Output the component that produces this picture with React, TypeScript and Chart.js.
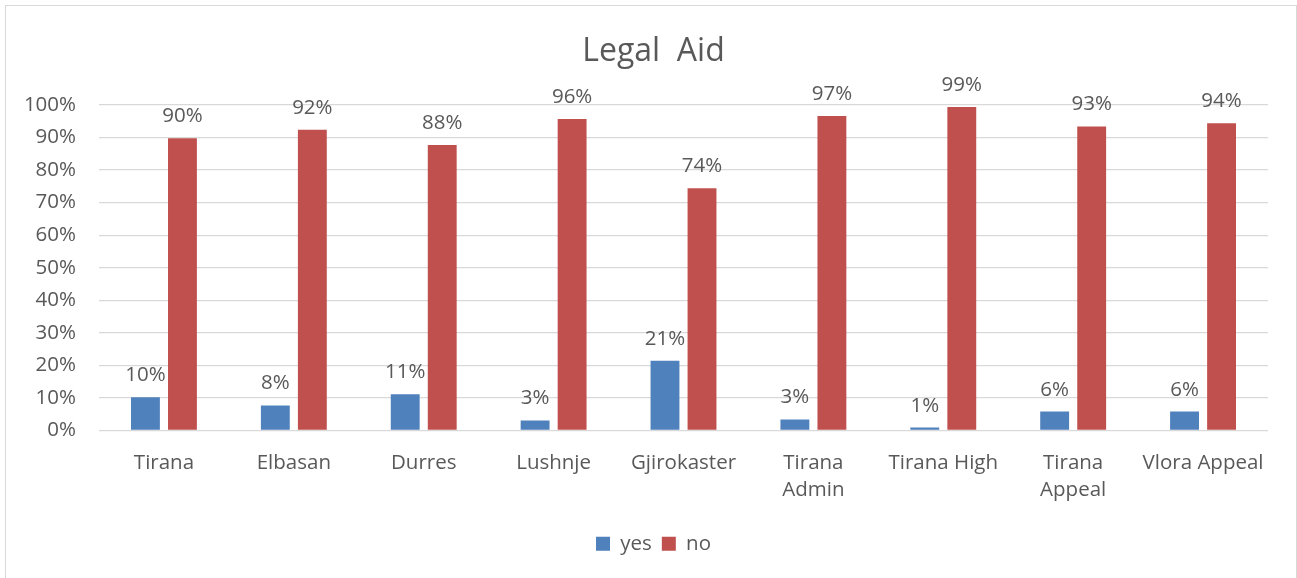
import React, { useEffect, useRef } from "react";
import { Chart, registerables } from "chart.js";

Chart.register(...registerables);

const categories: (string | string[])[] = [
  "Tirana",
  "Elbasan",
  "Durres",
  "Lushnje",
  "Gjirokaster",
  ["Tirana", "Admin"],
  "Tirana High",
  ["Tirana", "Appeal"],
  "Vlora Appeal",
];
const yesValues = [0.102, 0.077, 0.111, 0.031, 0.214, 0.034, 0.009, 0.058, 0.058];
const noValues = [0.898, 0.924, 0.877, 0.957, 0.744, 0.966, 0.994, 0.934, 0.944];
const yTicks = [0, 0.1, 0.2, 0.3, 0.4, 0.5, 0.6, 0.7, 0.8, 0.9, 1];

const FONT = "'Open Sans', sans-serif";
const TEXT = "#595959";

const dataLabels = {
  id: "dataLabels",
  afterDatasetsDraw(chart: any) {
    const ctx = chart.ctx;
    ctx.save();
    ctx.font = `20.5px ${FONT}`;
    ctx.fillStyle = TEXT;
    ctx.textAlign = "center";
    ctx.textBaseline = "alphabetic";
    chart.data.datasets.forEach((ds: any, di: number) => {
      const meta = chart.getDatasetMeta(di);
      meta.data.forEach((bar: any, i: number) => {
        const v = ds.data[i] as number;
        ctx.fillText(Math.round(v * 100) + "%", bar.x, bar.y - 16);
      });
    });
    ctx.restore();
  },
};

export default function App() {
  const ref = useRef<HTMLCanvasElement>(null);
  useEffect(() => {
    if (!ref.current) return;
    const chart = new Chart(ref.current, {
      type: "bar",
      data: {
        labels: categories as any,
        datasets: [
          {
            label: "yes",
            data: yesValues,
            backgroundColor: "#4F81BD",
            categoryPercentage: 0.57,
            barPercentage: 0.78,
          },
          {
            label: "no",
            data: noValues,
            backgroundColor: "#C0504D",
            categoryPercentage: 0.57,
            barPercentage: 0.78,
          },
        ],
      },
      options: {
        animation: false,
        responsive: false,
        maintainAspectRatio: false,
        layout: { padding: { left: 20, right: 10, top: 0, bottom: 14 } },
        plugins: {
          title: {
            display: true,
            text: "Legal  Aid",
            color: TEXT,
            font: { family: FONT, size: 32, weight: "normal" as any, lineHeight: 1.2 },
            padding: { top: 33, bottom: 33.6 },
          },
          legend: {
            position: "bottom",
            labels: {
              color: TEXT,
              font: { family: FONT, size: 20.5 },
              boxWidth: 14,
              boxHeight: 14,
              padding: 10,
            },
          },
          tooltip: { enabled: false },
        },
        scales: {
          x: {
            grid: { display: false, drawTicks: false },
            border: { display: false },
            ticks: {
              color: TEXT,
              font: { family: FONT, size: 20.5, lineHeight: 1.32 },
              padding: 19,
              maxRotation: 0,
              autoSkip: false,
            },
            afterFit(scale: any) {
              scale.height = 93;
            },
          },
          y: {
            min: 0,
            max: 1,
            grid: { color: "#D9D9D9", lineWidth: 1.3, drawTicks: false },
            border: { display: false },
            afterBuildTicks(scale: any) {
              scale.ticks = yTicks.map((v) => ({ value: v }));
            },
            ticks: {
              color: TEXT,
              font: { family: FONT, size: 20.5 },
              padding: 23,
              callback: (v: any) => Math.round(Number(v) * 100) + "%",
            },
            afterFit(scale: any) {
              scale.width = 79;
            },
          },
          yRight: {
            position: "right",
            min: 0,
            max: 1,
            grid: { display: false, drawTicks: false },
            border: { display: false },
            ticks: { display: false },
            afterFit(scale: any) {
              scale.width = 19;
            },
          },
        },
      },
      plugins: [dataLabels],
    });
    return () => chart.destroy();
  }, []);

  return (
    <div style={{ position: "fixed", left: 0, top: 0, width: 1297, height: 578, background: "#fff", overflow: "hidden" }}>
      <canvas ref={ref} width={1297} height={578} style={{ position: "absolute", left: 0, top: 0, width: 1297, height: 578 }} />
      <div
        style={{
          position: "absolute",
          left: 5,
          top: 5,
          width: 1290,
          height: 620,
          border: "1.5px solid #D9D9D9",
          pointerEvents: "none",
        }}
      />
    </div>
  );
}
